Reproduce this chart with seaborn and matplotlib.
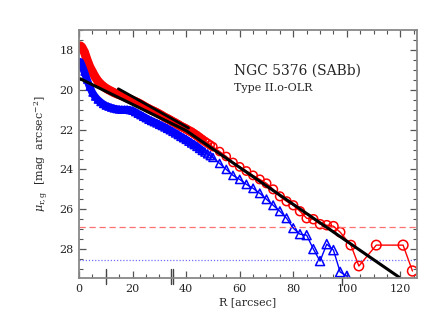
import numpy as np
import pandas as pd
import matplotlib
matplotlib.use("Agg")
import matplotlib.pyplot as plt
import matplotlib.transforms as mtransforms
import seaborn as sns

sns.set_style("ticks")
plt.rcParams['font.family'] = ['DejaVu Serif']
plt.rcParams['mathtext.fontset'] = 'dejavuserif'

# r-band profile (red circles)
r_R = [0.5, 1, 2, 3, 4, 5, 6, 7, 8, 9, 10, 11, 12, 13, 14, 15, 16, 17, 18, 19,
       20, 21, 22, 23, 24, 25, 26, 27, 28, 29, 30, 31, 32, 33, 34, 35, 36, 37,
       38, 39, 40, 41, 42, 43, 44, 45, 46, 47, 48, 49, 50, 52.5, 55, 57.5, 60,
       62.5, 65, 67.5, 70, 72.5, 75, 77.5, 80, 82.5, 85, 87.5, 90, 92.5, 95,
       97.5, 101.5, 104.5, 111, 121, 124.5]
r_mu = [17.8, 17.85, 18.1, 18.5, 18.85, 19.1, 19.35, 19.55, 19.7, 19.82, 19.92,
        20.0, 20.07, 20.14, 20.2, 20.25, 20.3, 20.36, 20.42, 20.47, 20.53, 20.59,
        20.65, 20.72, 20.8, 20.88, 20.95, 21.02, 21.08, 21.15, 21.22, 21.3, 21.38,
        21.45, 21.52, 21.6, 21.67, 21.75, 21.83, 21.9, 21.97, 22.05, 22.12, 22.21,
        22.3, 22.4, 22.5, 22.59, 22.68, 22.77, 22.86, 23.1, 23.35, 23.65, 23.87,
        24.08, 24.3, 24.5, 24.7, 25.0, 25.35, 25.6, 25.8, 26.1, 26.45, 26.5,
        26.75, 26.8, 26.85, 27.15, 27.8, 28.85, 27.8, 27.8, 29.1]

# g-band profile (blue triangles)
g_R = [0.5, 1, 2, 3, 4, 5, 6, 7, 8, 9, 10, 11, 12, 13, 14, 15, 16, 17, 18, 19,
       20, 21, 22, 23, 24, 25, 26, 27, 28, 29, 30, 31, 32, 33, 34, 35, 36, 37,
       38, 39, 40, 41, 42, 43, 44, 45, 46, 47, 48, 49, 50, 52.5, 55, 57.5, 60,
       62.5, 65, 67.5, 70, 72.5, 75, 77.5, 80, 82.5, 85, 87.5, 90, 92.5, 95,
       97.5, 100, 102.5]
g_mu = [18.6, 18.75, 19.1, 19.5, 19.85, 20.15, 20.35, 20.5, 20.62, 20.72, 20.8,
        20.85, 20.9, 20.94, 20.97, 20.99, 21.0, 21.0, 21.0, 21.02, 21.05, 21.12,
        21.2, 21.27, 21.35, 21.42, 21.5, 21.56, 21.62, 21.68, 21.75, 21.81, 21.88,
        21.95, 22.02, 22.1, 22.18, 22.26, 22.35, 22.42, 22.5, 22.59, 22.68, 22.76,
        22.85, 22.95, 23.05, 23.13, 23.22, 23.31, 23.4, 23.7, 24.0, 24.3, 24.5,
        24.75, 24.95, 25.2, 25.5, 25.8, 26.1, 26.45, 26.95, 27.25, 27.3, 28.0,
        28.6, 27.75, 28.05, 29.15, 29.35, 30.0]

# exponential disk fits
fit_R = [0.5, 40, 119.4]
fit_mu = [19.45, 22.05, 29.4]
fit2_R = [14.7, 40.9]
fit2_mu = [19.95, 21.92]

# limits and fit-range markers
r_limit = 26.87
g_limit = 28.55
break_marks = [10, 34.3, 35.1]

red = pd.DataFrame({"R": r_R, "mu": r_mu})
blue = pd.DataFrame({"R": g_R, "mu": g_mu})
dense_edge = 46  # inner, densely sampled part drawn as a solid band

fig = plt.figure(figsize=(4.30, 3.33), dpi=100)
ax = fig.add_axes([0.1837, 0.1652, 0.9698 - 0.1837, 0.9099 - 0.1652])

ax.axhline(r_limit, color='#ff7070', ls=(0, (5, 3)), lw=0.9)
ax.axhline(g_limit, color='#7070ff', ls=(0, (1, 1.5)), lw=0.9)

for df, col, mk, smax, band in [(red, 'red', 'o', 50, 6.5), (blue, 'blue', '^', 45, 5.5)]:
    inner = df[df.R <= dense_edge]
    sns.lineplot(data=df, x="R", y="mu", color=col, lw=1.0, sort=False, ax=ax)
    sns.lineplot(data=inner, x="R", y="mu", color=col, lw=band, sort=False, ax=ax,
                 solid_capstyle='round')
    sns.scatterplot(data=df, x="R", y="mu", size="R", sizes=(22, smax),
                    legend=False, marker=mk, facecolor='none', edgecolor=col,
                    linewidth=1.1, ax=ax)

sns.lineplot(x=fit_R, y=fit_mu, color='black', lw=2.2, sort=False, ax=ax)
sns.lineplot(x=fit2_R, y=fit2_mu, color='black', lw=2.0, sort=False, ax=ax)

trans = mtransforms.blended_transform_factory(ax.transData, ax.transAxes)
for xm in break_marks:
    ax.plot([xm, xm], [-0.025, 0.036], color='#444444', lw=1.0,
            transform=trans, clip_on=False)
ax.plot([98.2, 98.2], [-0.028, 0.0], color='#444444', lw=1.0,
        transform=trans, clip_on=False)

ax.set_xlim(0, 126.2)
ax.set_ylim(29.45, 17.0)
ax.set_xticks(np.arange(0, 121, 20))
ax.set_xticks(np.arange(0, 126, 5), minor=True)
ax.set_yticks(np.arange(18, 29, 2))
ax.set_yticks(np.arange(17, 29.5, 0.5), minor=True)
ax.tick_params(which='both', direction='in', top=True, right=True,
               color='#555555', labelsize=8, pad=4)
ax.tick_params(which='major', length=5, width=0.9)
ax.tick_params(which='minor', length=2.8, width=0.8)
for sp in ax.spines.values():
    sp.set_color('#888888')
    sp.set_linewidth(1.3)

ax.set_xlabel("R [arcsec]", fontsize=8, labelpad=3)
ax.set_ylabel(r"$\mu_{\rm r,g}$  [mag  arcsec$^{-2}$]", fontsize=8, labelpad=6)

ax.text(0.46, 0.82, "NGC 5376 (SABb)", transform=ax.transAxes, fontsize=10)
ax.text(0.46, 0.755, "Type II.o-OLR", transform=ax.transAxes, fontsize=8)

fig.savefig("out.png", dpi=100)
